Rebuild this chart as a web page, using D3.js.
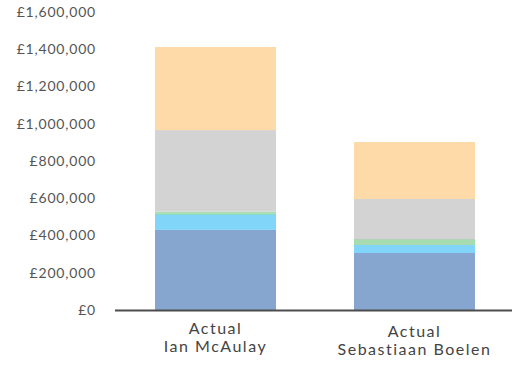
<!DOCTYPE html>
<html><head><meta charset="utf-8">
<script src="https://cdn.jsdelivr.net/npm/d3@7"></script>
<style>body{margin:0;background:#fff}svg{display:block}</style>
</head><body>
<svg id="c" width="512" height="367"></svg>
<script>
const categories = [["Actual","Ian McAulay"],["Actual","Sebastiaan Boelen"]];
const seriesNames = ["s1","s2","s3","s4","s5","s6","s7"];
const s1 = [430000, 306000];
const s2 = [82000, 43000];
const s3 = [6000, 0];
const s4 = [10000, 29000];
const s5 = [0, 3000];
const s6 = [438000, 215000];
const s7 = [446000, 306000];
const colors = ["#86a6d0","#80d5f8","#63c9a2","#a6dcb0","#8fb896","#d3d3d3","#fddaa7"];
const yTicks = [0,200000,400000,600000,800000,1000000,1200000,1400000,1600000];

const all = [s1,s2,s3,s4,s5,s6,s7];
const data = categories.map((c,i)=>{const o={cat:i};seriesNames.forEach((n,k)=>o[n]=all[k][i]);return o;});
const svg = d3.select("#c");
const x = d3.scaleBand().domain([0,1]).range([116,514]).paddingInner(0.392).paddingOuter(0.196);
const y = d3.scaleLinear().domain([0,1600000]).range([310,12]);
const stack = d3.stack().keys(seriesNames)(data);
svg.append("g").selectAll("g").data(stack).join("g").attr("fill",(d,i)=>colors[i])
  .selectAll("rect").data(d=>d).join("rect")
  .attr("x",d=>x(d.data.cat)).attr("width",x.bandwidth())
  .attr("y",d=>y(d[1])).attr("height",d=>y(d[0])-y(d[1]));
const fmt = v=>"£"+d3.format(",")(v);
const ya = svg.append("g").attr("transform","translate(96,0)")
  .call(d3.axisLeft(y).tickValues(yTicks).tickFormat(fmt).tickSize(0).tickPadding(0));
ya.select(".domain").remove();
ya.selectAll("text").attr("font-family","Lato").attr("font-size",14).attr("fill","#555").attr("letter-spacing","0.8px");
svg.append("line").attr("x1",115).attr("x2",512).attr("y1",310.5).attr("y2",310.5).attr("stroke","#4d4d4d").attr("stroke-width",2);
const xl = svg.append("g");
categories.forEach((c,i)=>{
  c.forEach((s,j)=>xl.append("text").attr("text-anchor","middle").attr("font-family","Lato").attr("font-size",16).attr("fill","#444")
    .attr("letter-spacing","1.5px")
    .attr("x",x(i)+x.bandwidth()/2).attr("y",(i===0?334:337)+j*18).text(s));
});
</script>
</body></html>
